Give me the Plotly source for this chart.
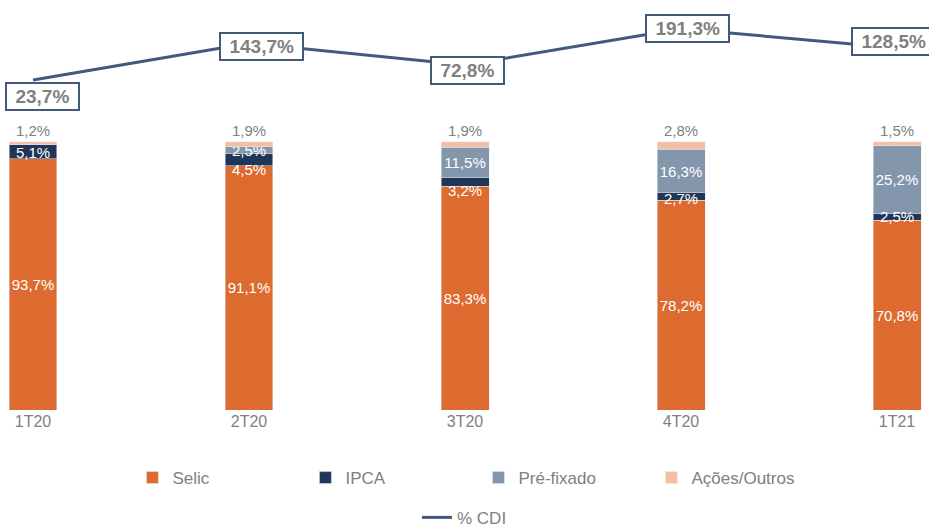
import plotly.graph_objects as go

# Composição da carteira por trimestre (%)
quarters = ['1T20', '2T20', '3T20', '4T20', '1T21']
selic = [93.7, 91.1, 83.3, 78.2, 70.8]
ipca = [5.1, 4.5, 3.2, 2.7, 2.5]
prefixado = [0.0, 2.5, 11.5, 16.3, 25.2]
acoes_outros = [1.2, 1.9, 1.9, 2.8, 1.5]
cdi = [23.7, 143.7, 72.8, 191.3, 128.5]

FONT = 'Liberation Sans, Arial, sans-serif'
GRAY = '#808080'
LINE = '#41597c'


def pct(v):
    return f'{v:.1f}%'.replace('.', ',')


def seg_text(vals):
    return [pct(v) if v > 0 else '' for v in vals]


fig = go.Figure()

series = [
    ('Selic', selic, '#dd6b2f', True),
    ('IPCA', ipca, '#1f3658', False),
    ('Pré-fixado', prefixado, '#8496ab', True),
]
for name, vals, color, with_text in series:
    fig.add_trace(go.Bar(
        x=quarters, y=vals, name=name, marker_color=color, width=0.222,
        text=seg_text(vals) if with_text else None,
        textposition='inside', insidetextanchor='middle',
        textangle=0, constraintext='none',
        textfont=dict(color='white', size=15, family=FONT),
        legend='legend'))

fig.add_trace(go.Bar(
    x=quarters, y=acoes_outros, name='Ações/Outros', marker_color='#f2bfa3',
    width=0.222, text=seg_text(acoes_outros), textposition='outside',
    textangle=0, constraintext='none', cliponaxis=False,
    textfont=dict(color=GRAY, size=15, family=FONT), legend='legend'))

fig.add_trace(go.Scatter(
    x=quarters, y=cdi, name='% CDI', mode='lines', yaxis='y2',
    line=dict(color=LINE, width=3), legend='legend2', cliponaxis=False))

# rótulos do IPCA (deslocados como no original para não colidir)
ipca_shift = [-1, -10, -8, -2, 0]
for q, s, v, dy in zip(quarters, selic, ipca, ipca_shift):
    fig.add_annotation(
        x=q, y=s + v / 2, text=pct(v), showarrow=False, yshift=dy,
        font=dict(size=15, color='white', family=FONT))

# caixas com os valores do % CDI
label_shift = [(9, -16), (12, -3), (2, -6), (6, 0), (-4, 6)]
for q, v, (dx, dy) in zip(quarters, cdi, label_shift):
    t = pct(v)
    ndig = sum(ch.isdigit() for ch in t)
    w = 19 * (0.556 * ndig + 0.278 + 0.889) + 13
    fig.add_annotation(
        x=q, y=v, yref='y2', text=f'<b>{t}</b>', showarrow=False,
        xshift=dx, yshift=dy, width=w, bgcolor='white',
        bordercolor=LINE, borderwidth=2, borderpad=2,
        font=dict(size=19, color=GRAY, family=FONT))

fig.update_layout(
    barmode='stack',
    width=929, height=527,
    margin=dict(l=0, r=0, t=0, b=117, autoexpand=False),
    paper_bgcolor='white', plot_bgcolor='white',
    font=dict(family=FONT, color=GRAY, size=16),
    uniformtext=dict(mode='show', minsize=15),
    xaxis=dict(range=[-0.1528, 4.148], showgrid=False, showline=False,
               zeroline=False, ticks='', tickfont=dict(size=16, color=GRAY)),
    yaxis=dict(range=[0, 152.8], visible=False),
    yaxis2=dict(range=[-1054.7, 285.2], overlaying='y', visible=False),
    legend=dict(orientation='h', x=0.515, xanchor='center', y=-0.166,
                yanchor='middle', traceorder='normal', entrywidth=128,
                font=dict(size=17, color=GRAY)),
    legend2=dict(orientation='h', x=0.5, xanchor='center', y=-0.263,
                 yanchor='middle', font=dict(size=17, color=GRAY)),
    showlegend=True,
)

page_fix = (
    "document.documentElement.style.cssText='margin:0;padding:0;overflow:hidden;height:527px;';"
    "document.body.style.cssText='margin:0;padding:0;overflow:hidden;height:527px;';"
)
fig.write_html('out.html', config={'displayModeBar': False}, post_script=page_fix)
